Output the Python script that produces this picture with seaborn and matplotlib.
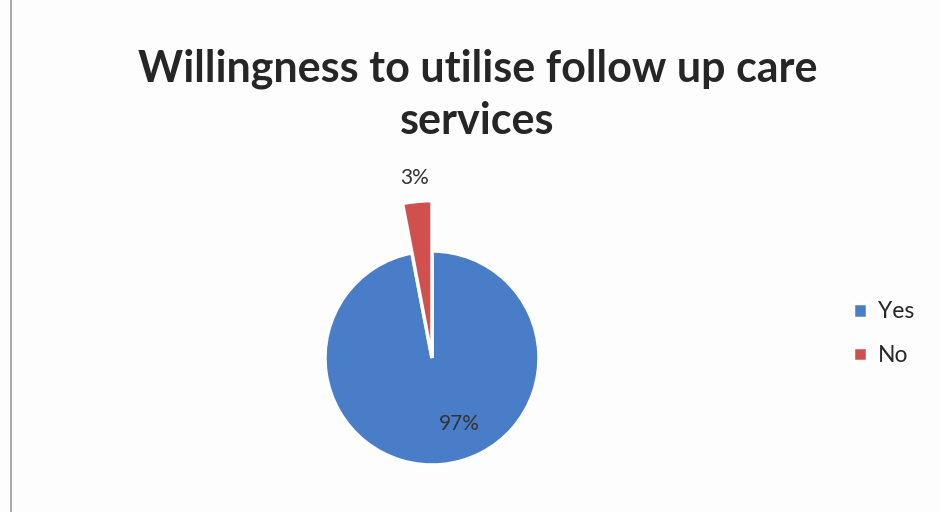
import numpy as np
import matplotlib
matplotlib.use("Agg")
import matplotlib.pyplot as plt
from matplotlib.patches import Rectangle
import seaborn as sns

sns.set_theme(style="white")
plt.rcParams["font.family"] = ["Lato", "DejaVu Sans"]

# data
categories = ["Yes", "No"]
values = [97, 3]
pct_labels = ["97%", "3%"]
colors = ["#4A7DC8", "#D0504E"]
title = "Willingness to utilise follow up care\nservices"

fig = plt.figure(figsize=(9.4, 5.12), dpi=100)
fig.patch.set_facecolor("#fdfdfd")

# axes sized so one data unit is ~107 px, centred on the pie
ax = fig.add_axes([218 / 940, -60 / 512, 428 / 940, 428 / 512])

wedges, _ = ax.pie(
    values,
    colors=colors,
    startangle=90,
    counterclock=False,
    radius=1,
    wedgeprops=dict(edgecolor="white", linewidth=2.5),
)
ax.set_xlim(-2, 2)
ax.set_ylim(-2, 2)
ax.set_aspect("equal")
ax.axis("off")

# the small "No" slice sticks out past the rest of the pie
wedges[1].set_radius(1.47)
wedges[1].set_zorder(3)

for w, lab, dist in zip(wedges, pct_labels, [0.62, 1.69]):
    mid = np.deg2rad((w.theta1 + w.theta2) / 2)
    ax.text(dist * np.cos(mid) + (0.2 if lab == "97%" else 0), dist * np.sin(mid), lab,
            ha="center", va="center", fontsize=15, color="#333333", zorder=5)

fig.text(0.508, 0.815, title, ha="center", va="center", fontsize=31,
         fontweight="bold", color="#262626", linespacing=1.38)

ax.legend(wedges, categories, loc="center left",
          bbox_to_anchor=(0.886, 0.348), bbox_transform=fig.transFigure,
          frameon=False, fontsize=16.5, handlelength=0.6, handleheight=0.6,
          handletextpad=0.45, labelspacing=1.0,
          labelcolor="#262626")

fig.add_artist(Rectangle((11 / 940, -0.01), 1.0, 1.02, transform=fig.transFigure,
                         fill=False, edgecolor="#9a9a9a", linewidth=1.2))

fig.savefig("out.png", dpi=100)
